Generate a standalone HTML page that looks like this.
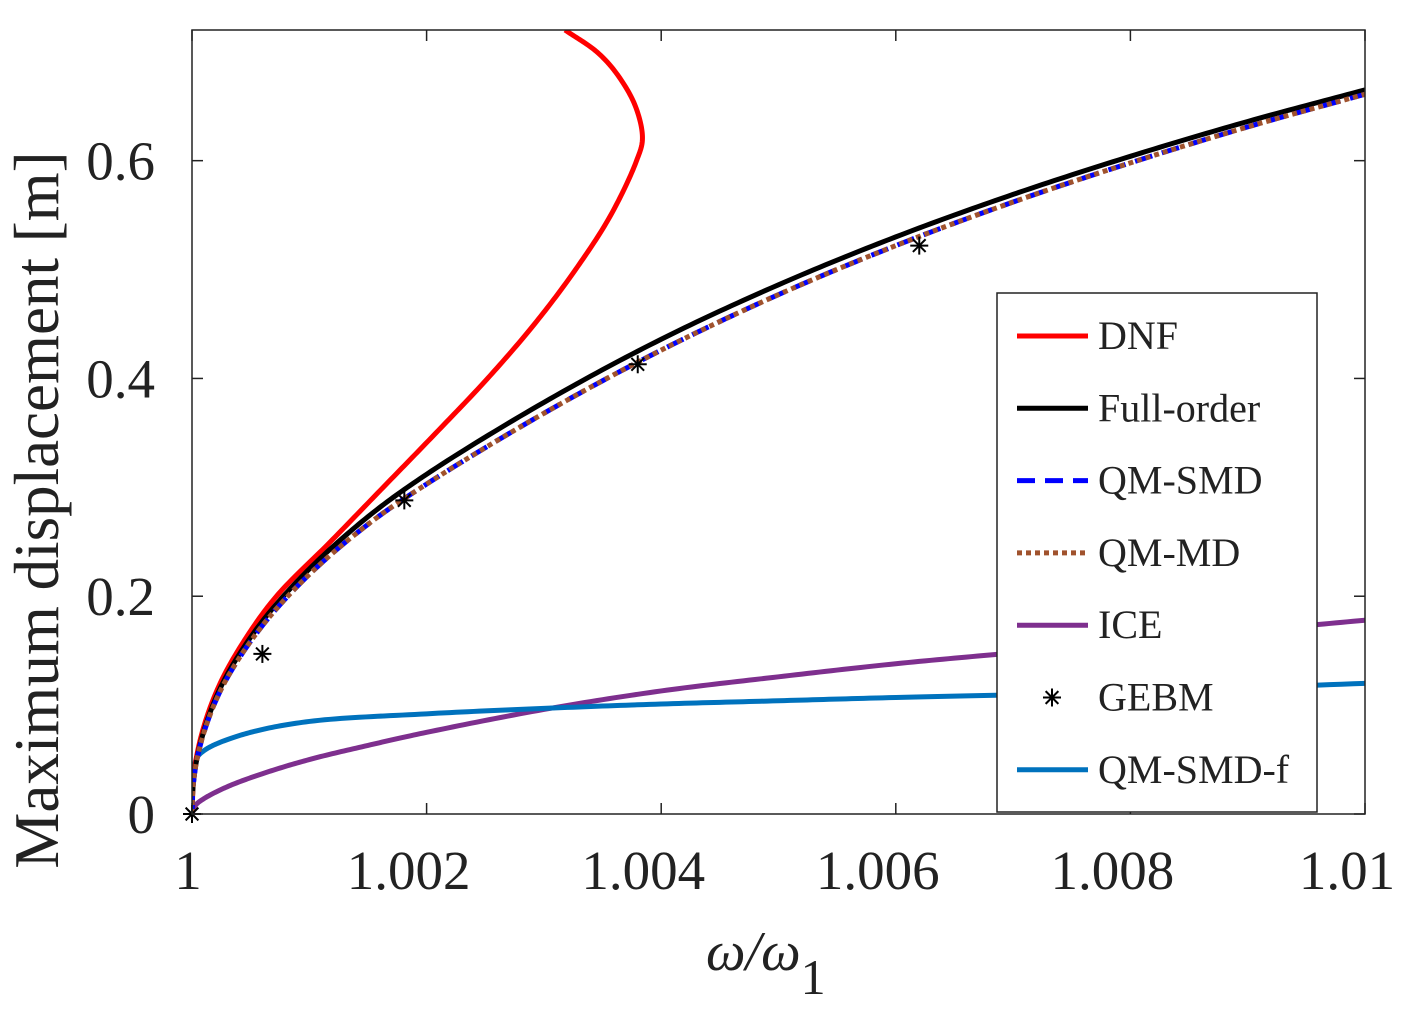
<!DOCTYPE html>
<html><head><meta charset="utf-8"><style>
html,body{margin:0;padding:0;background:#fff;}
svg{display:block;font-family:"Liberation Serif",serif;}
</style></head><body>
<svg id="chart" width="1414" height="1013" viewBox="0 0 1414 1013" xmlns="http://www.w3.org/2000/svg">
<rect x="0" y="0" width="1414" height="1013" fill="#fff"/>
<g id="plot"></g>
<g id="axes"></g>
<text x="0" y="0" transform="translate(58,510) rotate(-90)" text-anchor="middle" font-size="63" fill="#222">Maximum displacement [m]</text>
<text x="706" y="970" font-size="56" font-style="italic" fill="#222">ω/ω<tspan font-style="normal" dy="24" font-size="50">1</tspan></text>
<g id="legend"></g>
</svg>
<script>
const xTicks=[1,1.002,1.004,1.006,1.008,1.01];
const xTickLabels=["1","1.002","1.004","1.006","1.008","1.01"];
const yTicks=[0,0.2,0.4,0.6];
const yTickLabels=["0","0.2","0.4","0.6"];
const dnfX=[1,1.00002,1.0001,1.00024,1.00045,1.00072,1.00118,1.00163,1.00208,1.00252,1.00292,1.00327,1.00357,1.00379,1.00384,1.00378,1.00362,1.00345,1.00318];
const dnfY=[0,0.04,0.08,0.12,0.16,0.2,0.25,0.3,0.35,0.4,0.45,0.5,0.55,0.6,0.62,0.65,0.68,0.7,0.72];
const fullX=[1,1.00001,1.00005,1.00015,1.0003,1.0006,1.001,1.0015,1.002,1.003,1.004,1.005,1.006,1.007,1.008,1.009,1.01];
const fullY=[0,0.026,0.055,0.092,0.128,0.177,0.225,0.273,0.312,0.378,0.436,0.486,0.530,0.569,0.604,0.636,0.665];
const smdX=[1,1.00001,1.00005,1.00015,1.0003,1.0006,1.001,1.0015,1.002,1.003,1.004,1.005,1.006,1.007,1.008,1.009,1.01];
const smdY=[0,0.026,0.054,0.090,0.125,0.173,0.220,0.266,0.303,0.368,0.426,0.477,0.522,0.562,0.598,0.631,0.661];
const mdY=[0,0.026,0.054,0.090,0.125,0.173,0.220,0.266,0.303,0.368,0.426,0.477,0.522,0.562,0.598,0.631,0.661];
const iceX=[1,1.00003,1.0001,1.0003,1.0006,1.001,1.0015,1.002,1.003,1.004,1.005,1.006,1.007,1.008,1.009,1.01];
const iceY=[0,0.008,0.014,0.025,0.037,0.05,0.063,0.075,0.096,0.113,0.126,0.138,0.148,0.158,0.168,0.178];
const fX=[1,1.000005,1.00002,1.00005,1.0001,1.0002,1.0005,1.001,1.002,1.003,1.004,1.005,1.006,1.008,1.01];
const fY=[0,0.03,0.045,0.053,0.058,0.064,0.075,0.085,0.092,0.097,0.101,0.104,0.107,0.112,0.12];
const gebmX=[1,1.0006,1.00181,1.0038,1.0062];
const gebmY=[0,0.147,0.288,0.413,0.522];
const legendLabels=["DNF","Full-order","QM-SMD","QM-MD","ICE","GEBM","QM-SMD-f"];

const X0=192,X1=1365,Y0=814,Y1=30;
const xs=v=>X0+(v-1)/0.01*(X1-X0);
const ys=v=>Y0-v/0.72*(Y0-Y1);
const NS="http://www.w3.org/2000/svg";
function mk(t,a,p){const e=document.createElementNS(NS,t);for(const k in a)e.setAttribute(k,a[k]);p.appendChild(e);return e;}
function spline(px,py){
  const P=px.map((x,i)=>[xs(x),ys(py[i])]);
  const n=P.length;
  const ext=[[2*P[0][0]-P[1][0],2*P[0][1]-P[1][1]],...P,[2*P[n-1][0]-P[n-2][0],2*P[n-1][1]-P[n-2][1]]];
  let d="M"+P[0][0].toFixed(2)+","+P[0][1].toFixed(2);
  const dist=(a,b)=>Math.max(1e-4,Math.pow(Math.hypot(b[0]-a[0],b[1]-a[1]),0.5));
  for(let i=1;i<ext.length-2;i++){
    const p0=ext[i-1],p1=ext[i],p2=ext[i+1],p3=ext[i+2];
    const t0=0,t1=t0+dist(p0,p1),t2=t1+dist(p1,p2),t3=t2+dist(p2,p3);
    for(let s=1;s<=20;s++){
      const t=t1+(t2-t1)*s/20;
      const L=(a,b,ta,tb)=>[a[0]*(tb-t)/(tb-ta)+b[0]*(t-ta)/(tb-ta),a[1]*(tb-t)/(tb-ta)+b[1]*(t-ta)/(tb-ta)];
      const A1=L(p0,p1,t0,t1),A2=L(p1,p2,t1,t2),A3=L(p2,p3,t2,t3);
      const B1=L(A1,A2,t0,t2),B2=L(A2,A3,t1,t3);
      const C=L(B1,B2,t1,t2);
      d+=" L"+C[0].toFixed(2)+","+C[1].toFixed(2);
    }
  }
  return d;
}
const plot=document.getElementById('plot'),axes=document.getElementById('axes'),leg=document.getElementById('legend');
mk('clipPath',{id:'clip'},plot).appendChild(document.createElementNS(NS,'rect'));
const cr=plot.querySelector('#clip rect');cr.setAttribute('x',X0);cr.setAttribute('y',Y1);cr.setAttribute('width',X1-X0);cr.setAttribute('height',Y0-Y1);
const g=mk('g',{'clip-path':'url(#clip)','stroke-linejoin':'round'},plot);
let e;
e=mk('path',{d:spline(iceX,iceY),fill:'none',stroke:'#7e2f8e','stroke-width':5},g);

e=mk('path',{d:spline(fX,fY),fill:'none',stroke:'#0072bd','stroke-width':5},g);

e=mk('path',{d:spline(dnfX,dnfY),fill:'none',stroke:'#ff0000','stroke-width':5},g);

e=mk('path',{d:spline(fullX,fullY),fill:'none',stroke:'#000','stroke-width':5},g);

e=mk('path',{d:spline(smdX,smdY),fill:'none',stroke:'#0000ff','stroke-width':5,'stroke-dasharray':'18 10'},g);

e=mk('path',{d:spline(smdX,mdY),fill:'none',stroke:'#a0522d','stroke-width':5,'stroke-dasharray':'5 4'},g);

function star(cx,cy,r,p,name){
  const s=mk('g',{stroke:'#000','stroke-width':2},p);
  
  
  for(let k=0;k<4;k++){const a=k*Math.PI/4;mk('line',{x1:cx-r*Math.cos(a),y1:cy-r*Math.sin(a),x2:cx+r*Math.cos(a),y2:cy+r*Math.sin(a)},s);}
}
gebmX.forEach((x,i)=>star(xs(x),ys(gebmY[i]),9,plot,'gebm-point'));
e=mk('rect',{x:X0,y:Y1,width:X1-X0,height:Y0-Y1,fill:'none',stroke:'#222','stroke-width':1.5},axes);

xTicks.forEach((v,i)=>{const x=xs(v);
  mk('line',{x1:x,y1:Y0,x2:x,y2:Y0-11,stroke:'#222','stroke-width':1.5},axes);
  mk('line',{x1:x,y1:Y1,x2:x,y2:Y1+11,stroke:'#222','stroke-width':1.5},axes);
  const off=xTickLabels[i].length>1?-18:-4;
  const t=mk('text',{x:x+off,y:889,'text-anchor':'middle','font-size':55,fill:'#222'},axes);t.textContent=xTickLabels[i];
  });
yTicks.forEach((v,i)=>{const y=ys(v);
  mk('line',{x1:X0,y1:y,x2:X0+11,y2:y,stroke:'#222','stroke-width':1.5},axes);
  mk('line',{x1:X1,y1:y,x2:X1-11,y2:y,stroke:'#222','stroke-width':1.5},axes);
  const t=mk('text',{x:155,y:y+19,'text-anchor':'end','font-size':55,fill:'#222'},axes);t.textContent=yTickLabels[i];
  });
e=mk('rect',{x:997,y:293,width:320,height:519,fill:'#fff',stroke:'#222','stroke-width':1.5},leg);

const styles=[{s:'#ff0000'},{s:'#000'},{s:'#0000ff',d:'18 10'},{s:'#a0522d',d:'5 4'},{s:'#7e2f8e'},{star:1},{s:'#0072bd'}];
legendLabels.forEach((l,i)=>{const y=336+i*72.3;
  if(styles[i].star){star(1052,y,9,leg,'legend-marker');}
  else{const ln=mk('line',{x1:1017,y1:y,x2:1088,y2:y,stroke:styles[i].s,'stroke-width':5,'stroke-dasharray':styles[i].d||'none'},leg);
  }
  const t=mk('text',{x:1098,y:y+13,'font-size':40,fill:'#222'},leg);t.textContent=l;
  });
</script>
</body></html>
